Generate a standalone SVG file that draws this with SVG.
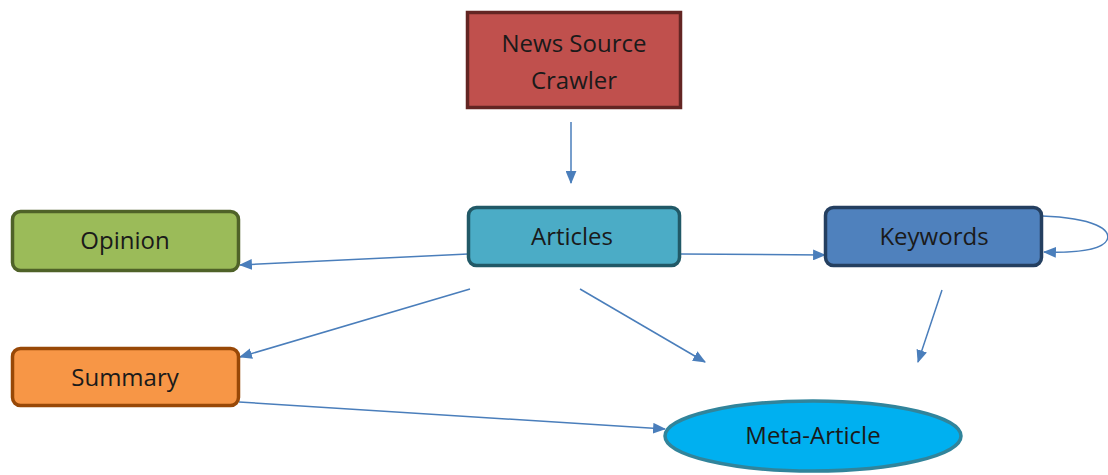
<svg xmlns="http://www.w3.org/2000/svg" width="1108" height="475" viewBox="0 0 1108 475">
<style>
.lbl{font-family:"Open Sans","Liberation Sans",sans-serif;font-size:24px;fill:#1a1a1a;text-anchor:middle}
.con{fill:none;stroke:#4A7EBB;stroke-width:1.5}
</style>
<defs>
<marker id="ah" viewBox="0 0 12 10" refX="11" refY="5" markerWidth="13" markerHeight="11" markerUnits="userSpaceOnUse" orient="auto">
<path d="M0,0 L12,5 L0,10 z" fill="#4A7EBB"/>
</marker>
</defs>
<rect width="1108" height="475" fill="#ffffff"/>
<g id="connectors">
<path class="con" d="M571,122 L571,183" marker-end="url(#ah)"/>
<path class="con" d="M468,254 L240,265" marker-end="url(#ah)"/>
<path class="con" d="M470,289 L240,357" marker-end="url(#ah)"/>
<path class="con" d="M580,289 L705,362" marker-end="url(#ah)"/>
<path class="con" d="M680,254 L825,255" marker-end="url(#ah)"/>
<path class="con" d="M942,290 L918,362" marker-end="url(#ah)"/>
<path class="con" d="M239,402 L665,429" marker-end="url(#ah)"/>
<path class="con" d="M1042,216 C1095,218 1112,230 1107,240 C1102,250 1075,253 1044,252" marker-end="url(#ah)"/>
</g>
<g id="crawler">
<rect x="467.5" y="12.5" width="213" height="95" fill="#C0504D" stroke="#632523" stroke-width="3.5"/>
<text class="lbl" x="574" y="52">News Source</text>
<text class="lbl" x="574" y="89">Crawler</text>
</g>
<g id="articles">
<rect x="468.5" y="207.5" width="211" height="58" rx="8" fill="#4BACC6" stroke="#215967" stroke-width="3.5"/>
<text class="lbl" x="572" y="245">Articles</text>
</g>
<g id="opinion">
<rect x="12.5" y="211.5" width="226" height="59" rx="8" fill="#9BBB59" stroke="#4F6228" stroke-width="3.5"/>
<text class="lbl" x="125" y="249">Opinion</text>
</g>
<g id="keywords">
<rect x="825.5" y="207.5" width="216" height="58" rx="8" fill="#4F81BD" stroke="#243F60" stroke-width="3.5"/>
<text class="lbl" x="934" y="245">Keywords</text>
</g>
<g id="summary">
<rect x="12.5" y="348.5" width="226" height="57" rx="8" fill="#F79646" stroke="#984807" stroke-width="3.5"/>
<text class="lbl" x="125" y="386">Summary</text>
</g>
<g id="meta">
<ellipse cx="813" cy="436" rx="148" ry="35" fill="#00B0F0" stroke="#31849B" stroke-width="3.5"/>
<text class="lbl" x="813" y="444">Meta-Article</text>
</g>
</svg>
